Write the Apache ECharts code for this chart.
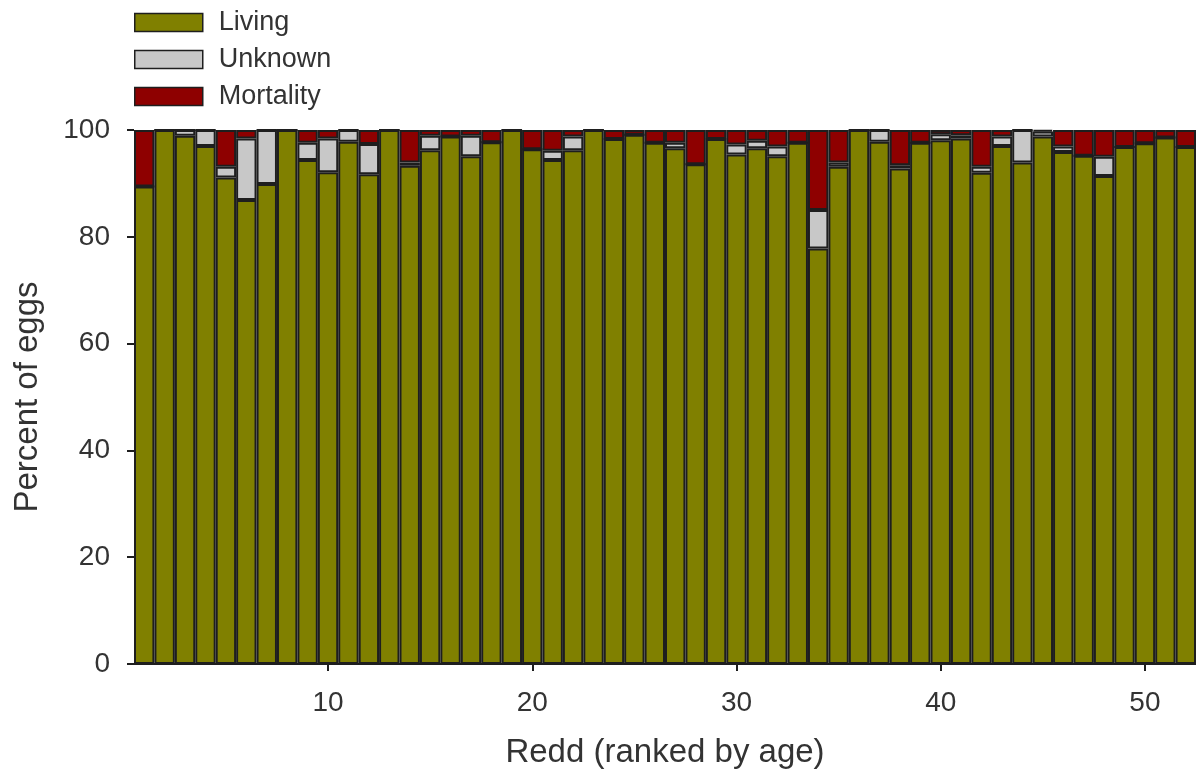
<!DOCTYPE html>
<html>
<head>
<meta charset="utf-8">
<script src="https://cdn.jsdelivr.net/npm/echarts@6/dist/echarts.min.js"></script>
<style>
html,body{margin:0;padding:0;background:#fff;overflow:hidden;}
#chart{width:1196px;height:775px;}
</style>
</head>
<body>
<div id="chart"></div>
<script>
// Redd number (ranked by age)
const redd = ['1','2','3','4','5','6','7','8','9','10','11','12','13','14','15','16','17','18','19','20',
              '21','22','23','24','25','26','27','28','29','30','31','32','33','34','35','36','37','38','39','40',
              '41','42','43','44','45','46','47','48','49','50','51','52'];
// Percent of eggs
const living = [89.4,100,98.9,97.0,91.1,86.9,89.9,100,94.4,92.1,97.8,91.7,100,93.3,96.2,98.8,95.1,97.7,100,96.4,
                94.4,96.2,100,98.3,99.1,97.6,96.6,93.6,98.3,95.4,96.6,95.1,97.6,77.8,93.1,100,97.8,92.8,97.6,98.1,
                98.4,92.0,97.0,93.9,98.8,95.9,95.2,91.4,96.8,97.5,98.6,96.8];
const unknown = [0,0,1.1,3.0,2.0,11.5,10.1,0,3.2,6.3,2.2,5.7,0,0.6,2.7,0,3.8,0,0,0,
                 1.7,2.6,0,0,0,0,1.0,0,0,1.9,1.4,1.8,0,7.2,0.8,0,2.2,0.6,0,1.1,
                 0.6,1.1,1.8,6.1,0.9,1.0,0,3.6,0,0,0,0];
const mortality = [10.6,0,0,0,6.9,1.6,0,0,2.4,1.6,0,2.6,0,6.1,1.1,1.2,1.1,2.3,0,3.6,
                   3.9,1.2,0,1.7,0.9,2.4,2.4,6.4,1.7,2.7,2.0,3.1,2.4,15.0,6.1,0,0,6.6,2.4,0.8,
                   1.0,6.9,1.2,0,0.3,3.1,4.8,5.0,3.2,2.5,1.4,3.2];
const xTickLabels = ['10','20','30','40','50'];
const seriesNames = ['Living','Unknown','Mortality'];

const FONT = '"Liberation Sans", Arial, sans-serif';
const TXT = '#333333';
const LINE = '#1e1e1e';
const colors = ['#808000','#c8c8c8','#8e0000'];

function mk(name, vals, color){
  return {
    name: name, type: 'bar', stack: 'total',
    data: vals,
    barCategoryGap: 0,
    itemStyle: {color: color, borderColor: LINE, borderWidth: 2},
    emphasis: {disabled: true},
    animation: false
  };
}
const showTick = (idx, val) => xTickLabels.indexOf(String(val)) >= 0;

const chart = echarts.init(document.getElementById('chart'), null, {renderer:'canvas'});
chart.setOption({
  backgroundColor: '#ffffff',
  animation: false,
  legend: {
    orient: 'vertical', left: 134, top: 9, padding: 0,
    itemWidth: 68, itemHeight: 18, itemGap: 10,
    data: seriesNames,
    icon: 'rect',
    itemStyle: {borderColor: LINE, borderWidth: 1.5},
    textStyle: {fontFamily: FONT, fontSize: 27, color: TXT, padding: [0,0,0,11]}
  },
  grid: {left: 134, right: -4, top: 130, bottom: 111, containLabel: false},
  xAxis: {
    type: 'category', data: redd, boundaryGap: true,
    name: 'Redd (ranked by age)', nameLocation: 'middle', nameGap: 72,
    nameTextStyle: {fontFamily: FONT, fontSize: 33, color: TXT},
    axisLine: {show: true, lineStyle: {color: LINE, width: 2}},
    axisTick: {show: true, alignWithLabel: true, interval: showTick, length: 7, lineStyle: {color: LINE, width: 2}},
    axisLabel: {interval: showTick, fontFamily: FONT, fontSize: 28, color: TXT, margin: 25},
    splitLine: {show: false}
  },
  yAxis: {
    type: 'value', min: 0, max: 100, interval: 20,
    name: 'Percent of eggs', nameLocation: 'middle', nameGap: 90,
    nameTextStyle: {fontFamily: FONT, fontSize: 33, color: TXT},
    axisLine: {show: false},
    axisTick: {show: true, length: 7, lineStyle: {color: LINE, width: 2}},
    axisLabel: {fontFamily: FONT, fontSize: 28, color: TXT, margin: 24},
    splitLine: {show: false}
  },
  series: [mk('Living', living, colors[0]), mk('Unknown', unknown, colors[1]), mk('Mortality', mortality, colors[2])]
});
</script>
</body>
</html>
